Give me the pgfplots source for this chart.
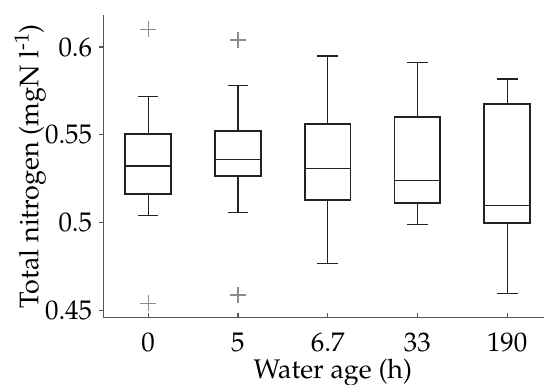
\documentclass[border=0pt]{standalone}
\usepackage[T1]{fontenc}
\usepackage{mathpazo}
\usepackage{pgfplots}
\pgfplotsset{compat=1.18}
\usepgfplotslibrary{statistics}
\definecolor{boxc}{HTML}{222222}
\definecolor{outc}{HTML}{8C8C8C}
\definecolor{axc}{HTML}{555555}
\newcommand{\bigfont}{\fontsize{27}{32}\selectfont}
\begin{document}
\bigfont
\begin{tikzpicture}
\begin{axis}[
  name=ax,
  scale only axis,
  width=440.7bp, height=302.3bp,
  xmin=-0.5, xmax=4.41,
  ymin=0.4462, ymax=0.6182,
  axis x line=bottom, axis y line=left,
  axis line style={-, draw=axc, line width=1.2bp},
  xtick={0,1,2,3,4},
  xticklabels={0,5,6.7,33,190},
  ytick={0.45,0.5,0.55,0.6},
  yticklabels={0.45,0.5,0.55,0.6},
  xtick align=inside, ytick align=outside,
  major tick length=4bp,
  tick style={draw=axc, line width=1.2bp},
  font=\bigfont,
  tick label style={font=\bigfont},
  label style={font=\bigfont},
  xticklabel style={yshift=-6bp},
  yticklabel style={xshift=2bp},
  every axis y label/.style={at={(rel axis cs:0,0.5)}, xshift=-73bp, rotate=90, anchor=center},
  every axis x label/.style={at={(rel axis cs:0.521,0)}, anchor=center, yshift=-55bp},
  ylabel={Total nitrogen (mgN l\textsuperscript{-1})},
  xlabel={Water age (h)},
  clip=false,
  boxplot/draw direction=y,
  boxplot/box extend=0.51,
  boxplot/whisker extend=0.23,
  boxplot/every box/.style={draw=boxc, line width=1.8bp},
  boxplot/every whisker/.style={draw=boxc, line width=1.2bp},
  boxplot/every median/.style={draw=boxc, line width=1.2bp},
]
\addplot+[draw=boxc, solid, boxplot/every median/.style={draw=boxc, line width=1.7bp}, boxplot prepared={lower whisker=0.504, lower quartile=0.5164, median=0.5323, upper quartile=0.5503, upper whisker=0.572, draw position=0},
  mark=+, mark size=8bp, mark options={draw=outc, line width=1.2bp}] coordinates {(0,0.610) (0,0.4542)};
\addplot+[draw=boxc, solid, boxplot/every median/.style={draw=boxc, line width=1.7bp}, boxplot prepared={lower whisker=0.506, lower quartile=0.5266, median=0.5359, upper quartile=0.5524, upper whisker=0.578, draw position=1},
  mark=+, mark size=8bp, mark options={draw=outc, line width=1.2bp}] coordinates {(1,0.604) (1,0.4589)};
\addplot+[draw=boxc, solid, boxplot prepared={lower whisker=0.477, lower quartile=0.513, median=0.5308, upper quartile=0.556, upper whisker=0.5949, draw position=2}] coordinates {};
\addplot+[draw=boxc, solid, boxplot prepared={lower whisker=0.4989, lower quartile=0.5111, median=0.524, upper quartile=0.560, upper whisker=0.5911, draw position=3}] coordinates {};
\addplot+[draw=boxc, solid, boxplot prepared={lower whisker=0.4599, lower quartile=0.4997, median=0.510, upper quartile=0.5674, upper whisker=0.5818, draw position=4}] coordinates {};
\end{axis}
\pgfresetboundingbox
\path ([shift={(-103.3bp,-67.7bp)}]ax.south west) rectangle ([shift={(0bp,15bp)}]ax.north east);
\end{tikzpicture}
\end{document}
